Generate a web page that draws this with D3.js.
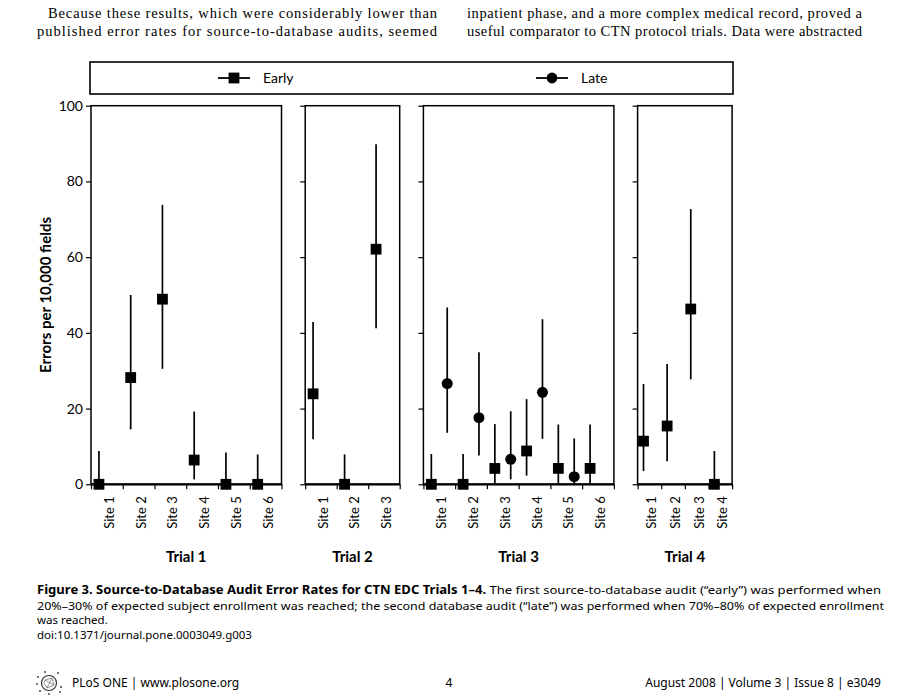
<!DOCTYPE html>
<html lang="en">
<head>
    <meta charset="utf-8">
    <title>Source-to-Database Audit Error Rates</title>
    <style>
        body {
            margin: 0;
            background: white;
        }

        .page {
            display: block;
        }

        .axis path,
        .axis line {
            stroke: black;
        }
    </style>
</head>
<body>
<svg class="page"></svg>
<script src="https://cdn.jsdelivr.net/npm/d3@7"></script>
<script>

  const pageWidth = 900;
  const pageHeight = 700;

  // chart data
  const trials = ["Trial 1", "Trial 2", "Trial 3", "Trial 4"];
  const siteNames = [
    ["Site 1", "Site 2", "Site 3", "Site 4", "Site 5", "Site 6"],
    ["Site 1", "Site 2", "Site 3"],
    ["Site 1", "Site 2", "Site 3", "Site 4", "Site 5", "Site 6"],
    ["Site 1", "Site 2", "Site 3", "Site 4"]
  ];
  const earlyRate = [[0, 28.2, 48.9, 6.4, 0, 0], [23.9, 0, 62.1], [0, 0, 4.2, 8.8, 4.2, 4.2], [11.4, 15.4, 46.3, 0]];
  const earlyLow = [[0, 14.5, 30.5, 1.3, 0, 0], [11.9, 0, 41.2], [0, 0, 0.3, 2.3, 0.3, 0.3], [3.5, 6.1, 27.7, 0]];
  const earlyHigh = [[8.8, 50, 73.8, 19.2, 8.4, 7.9], [42.9, 7.9, 89.8], [8.0, 8.0, 15.9, 22.5, 15.8, 15.8], [26.5, 31.8, 72.7, 8.8]];
  const lateRate = [[], [], [26.6, 17.6, 6.6, 24.3, 2.0], []];
  const lateLow = [[], [], [13.6, 7.6, 1.3, 12.0, 0], []];
  const lateHigh = [[], [], [46.7, 34.9, 19.3, 43.6, 12.1], []];
  const yTicks = [0, 20, 40, 60, 80, 100];
  const legendLabels = ["Early", "Late"];

  // page text around the figure
  const topLines = [
    "Because these results, which were considerably lower than",
    "published error rates for source-to-database audits, seemed",
    "inpatient phase, and a more complex medical record, proved a",
    "useful comparator to CTN protocol trials. Data were abstracted"
  ];
  const captionTitle = "Figure 3. Source-to-Database Audit Error Rates for CTN EDC Trials 1–4.";
  const captionLines = [
    " The first source-to-database audit (“early”) was performed when",
    "20%–30% of expected subject enrollment was reached; the second database audit (“late”) was performed when 70%–80% of expected enrollment",
    "was reached.",
    "doi:10.1371/journal.pone.0003049.g003"
  ];
  const footer = ["PLoS ONE | www.plosone.org", "4", "August 2008 | Volume 3 | Issue 8 | e3049"];

  const chartFont = "Lato, 'DejaVu Sans', sans-serif";
  const panelWidths = [190.5, 94.5, 190.5, 94.5];
  const panelGap = 23.7;
  const panelLeft0 = 91;
  const plotTop = 105.7;
  const plotBottom = 484.3;

  const svg = d3.select(".page")
    .attr("width", pageWidth)
    .attr("height", pageHeight)
    .attr("viewBox", [0, 0, pageWidth, pageHeight]);

  // body text, justified columns
  const columns = [{x: 37, w: 400}, {x: 467, w: 395}];
  topLines.forEach((line, i) => {
    const col = columns[Math.floor(i / 2)];
    const indent = (i === 0) ? 11 : 0;
    svg.append("text")
      .attr("x", col.x + indent)
      .attr("y", 18 + (i % 2) * 18)
      .attr("textLength", col.w - indent)
      .attr("lengthAdjust", "spacing")
      .style("font", "14.5px 'Liberation Serif', serif")
      .text(line);
  });

  const y = d3.scaleLinear()
    .domain([0, 100])
    .range([plotBottom, plotTop]);

  // legend
  const legendG = svg.append("g");
  legendG.append("rect")
    .attr("x", 90).attr("y", 62)
    .attr("width", 643).attr("height", 32)
    .attr("fill", "none")
    .attr("stroke", "black")
    .attr("stroke-width", 1.6);

  const legendX = [234, 552];
  legendLabels.forEach((label, i) => {
    const g = legendG.append("g").attr("transform", `translate(${legendX[i]},78)`);
    g.append("line").attr("x1", -16).attr("x2", 16)
      .attr("stroke", "black").attr("stroke-width", 1.8);
    if (i === 0) {
      g.append("rect").attr("x", -5.4).attr("y", -5.4).attr("width", 10.8).attr("height", 10.8);
    } else {
      g.append("circle").attr("r", 5.4);
    }
    g.append("text")
      .attr("x", 29)
      .attr("dy", "0.35em")
      .style("font", `14px ${chartFont}`)
      .text(label);
  });

  // panels
  let left = panelLeft0;
  trials.forEach((trial, t) => {
    const w = panelWidths[t];
    const n = siteNames[t].length;
    const g = svg.append("g").attr("transform", `translate(${left},0)`);

    const x = d3.scaleBand()
      .domain(siteNames[t])
      .range([0, w])
      .padding(0);
    const xEdge = d3.scaleLinear().domain([0, n]).range([0, w]);

    // y axis
    const yAxis = d3.axisLeft(y)
      .tickValues(yTicks)
      .tickSize(5)
      .tickPadding(3)
      .tickSizeOuter(0)
      .tickFormat(t === 0 ? d3.format("d") : "");
    g.append("g").attr("class", "axis").call(yAxis)
      .call(a => a.select(".domain").remove())
      .call(a => a.selectAll("line").attr("stroke-width", 1.2))
      .call(a => a.selectAll("text").style("font", `14px ${chartFont}`).attr("fill", "black"));

    // x axis: ticks at site boundaries
    const xAxis = d3.axisBottom(xEdge)
      .tickValues(d3.range(n + 1))
      .tickSize(5)
      .tickSizeOuter(0)
      .tickFormat("");
    g.append("g").attr("class", "axis")
      .attr("transform", `translate(0,${plotBottom})`)
      .call(xAxis)
      .call(a => a.select(".domain").remove())
      .call(a => a.selectAll("line").attr("stroke-width", 1.2));

    // frame
    g.append("rect")
      .attr("x", 0).attr("y", plotTop)
      .attr("width", w).attr("height", plotBottom - plotTop)
      .attr("fill", "none")
      .attr("stroke", "black")
      .attr("stroke-width", 1.5);
    g.append("line")
      .attr("x1", 0).attr("x2", w)
      .attr("y1", plotBottom).attr("y2", plotBottom)
      .attr("stroke", "black").attr("stroke-width", 2.2);

    // site labels
    g.selectAll(".site")
      .data(siteNames[t])
      .join("text")
      .attr("class", "site")
      .attr("transform", d => `translate(${x(d) + x.bandwidth() / 2 + 7},${plotBottom + 12}) rotate(-90)`)
      .attr("text-anchor", "end")
      .style("font", `13px ${chartFont}`)
      .text(d => d);

    // trial label
    g.append("text")
      .attr("x", w / 2)
      .attr("y", 562)
      .attr("text-anchor", "middle")
      .style("font", `bold 15px ${chartFont}`)
      .text(trial);

    // early: error bars + squares
    const early = siteNames[t].map((s, i) => ({site: s, v: earlyRate[t][i], lo: earlyLow[t][i], hi: earlyHigh[t][i]}));
    const late = lateRate[t].map((v, i) => ({site: siteNames[t][i], v: v, lo: lateLow[t][i], hi: lateHigh[t][i]}));
    const ex = d => x(d.site) + x.bandwidth() * 0.25;
    const lx = d => x(d.site) + x.bandwidth() * 0.75;

    g.selectAll(".ebar")
      .data(early)
      .join("line")
      .attr("x1", ex).attr("x2", ex)
      .attr("y1", d => y(d.lo)).attr("y2", d => y(d.hi))
      .attr("stroke", "black").attr("stroke-width", 1.7);
    g.selectAll(".lbar")
      .data(late)
      .join("line")
      .attr("x1", lx).attr("x2", lx)
      .attr("y1", d => y(d.lo)).attr("y2", d => y(d.hi))
      .attr("stroke", "black").attr("stroke-width", 1.7);

    g.selectAll(".emark")
      .data(early)
      .join("rect")
      .attr("x", d => ex(d) - 5.4)
      .attr("y", d => y(d.v) - 5.4)
      .attr("width", 10.8).attr("height", 10.8)
      .attr("fill", "black");
    g.selectAll(".lmark")
      .data(late)
      .join("circle")
      .attr("cx", lx)
      .attr("cy", d => y(d.v))
      .attr("r", 5.5)
      .attr("fill", "black");

    left += w + panelGap;
  });

  // y axis title
  svg.append("text")
    .attr("transform", `translate(51,${(plotTop + plotBottom) / 2}) rotate(-90)`)
    .attr("text-anchor", "middle")
    .attr("textLength", 156)
    .attr("lengthAdjust", "spacingAndGlyphs")
    .style("font", `bold 15px ${chartFont}`)
    .text("Errors per 10,000 fields");

  // caption
  const capFont = "'Noto Sans', 'Open Sans', sans-serif";
  const cap1 = svg.append("text")
    .attr("x", 37).attr("y", 594)
    .attr("textLength", 844)
    .attr("lengthAdjust", "spacingAndGlyphs")
    .style("font", `11.5px ${capFont}`);
  cap1.append("tspan").style("font-weight", "bold").text(captionTitle);
  cap1.append("tspan").text(captionLines[0]);

  captionLines.slice(1).forEach((line, i) => {
    const txt = svg.append("text")
      .attr("x", 37).attr("y", 610 + i * 14.3)
      .style("font", `11.5px ${capFont}`)
      .text(line);
    if (i === 0) {
      txt.attr("textLength", 847).attr("lengthAdjust", "spacingAndGlyphs");
    }
  });

  // footer
  const logo = svg.append("g").attr("transform", "translate(49,683)");
  logo.append("circle").attr("r", 7.5).attr("fill", "none").attr("stroke", "#333").attr("stroke-width", 1.2);
  logo.append("path")
    .attr("d", "M-4,-3 L3,-5 L5,2 L-2,5 L-5,0 Z M-4,-3 L5,2 M3,-5 L-2,5")
    .attr("fill", "none").attr("stroke", "#555").attr("stroke-width", 0.6);
  const dots = [[-11, -6], [-12, 1], [-9, 8], [0, 11], [9, -10], [12, 4], [-4, -11], [11, 9]];
  logo.selectAll(".dot").data(dots).join("circle")
    .attr("cx", d => d[0]).attr("cy", d => d[1]).attr("r", 0.9).attr("fill", "#333");

  svg.append("text").attr("x", 72).attr("y", 687)
    .style("font", `12px ${capFont}`).text(footer[0]);
  svg.append("text").attr("x", 449).attr("y", 687).attr("text-anchor", "middle")
    .style("font", `12px ${capFont}`).text(footer[1]);
  svg.append("text").attr("x", 881).attr("y", 687).attr("text-anchor", "end")
    .style("font", `12px ${capFont}`).text(footer[2]);

</script>
</body>
</html>
